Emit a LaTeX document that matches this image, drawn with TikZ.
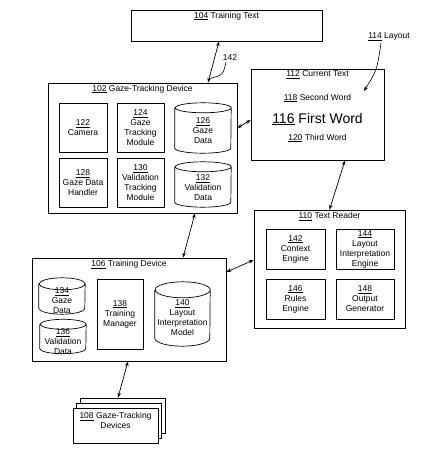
\documentclass[tikz,border=0pt]{standalone}
\usepackage{fontspec}
\setmainfont{Liberation Sans}
\usetikzlibrary{arrows.meta}
\newcommand\un[1]{\underline{#1}}
\tikzset{
  boxline/.style={draw=black, line width=0.7pt},
  box/.style={boxline, fill=white, inner sep=0pt, align=center},
  ttl/.style={inner sep=0pt, align=center},
  conn/.style={line width=0.7pt, {Stealth[length=5pt,width=3.6pt]}-{Stealth[length=5pt,width=3.6pt]}},
  lead/.style={line width=0.6pt, -{Stealth[length=5pt,width=3.6pt]}},
  every node/.style={font=\fontsize{8.5}{10}\selectfont}
}
% name, cx, cy, w, h, ry, text, text shift down
\newcommand\mydrum[8]{%
  \node[minimum width=#4pt, minimum height=#5pt, inner sep=0pt] (#1) at (#2,#3) {};
  \draw[boxline] ([yshift=-#6pt]#1.north west) -- ([yshift=#6pt]#1.south west)
     arc[start angle=180, end angle=360, x radius=#4pt/2, y radius=#6pt]
     -- ([yshift=-#6pt]#1.north east)
     arc[start angle=0, end angle=360, x radius=#4pt/2, y radius=#6pt];
  \node[ttl] at ([yshift=-#8pt]#1.center) {#7};
}
\begin{document}
\begin{tikzpicture}[x=1pt,y=1pt]
\useasboundingbox (0,0) rectangle (426,-468);

% 104
\node[box, minimum width=191pt, minimum height=31pt] (b104) at (226.5,-25.5) {};
\node[ttl] (t104) at ([yshift=-6.5pt]b104.north) {\un{104} Training Text};

% 102
\node[box, minimum width=189pt, minimum height=130pt] (b102) at (142.5,-148) {};
\node[ttl] (t102) at ([yshift=-6.5pt]b102.north) {\un{102} Gaze-Tracking Device};
\node[box, minimum width=48pt, minimum height=49pt] (b122) at (83,-127.5) {\un{122}\\Camera};
\node[box, minimum width=47pt, minimum height=49pt] (b124) at (140.5,-127.5) {\un{124}\\Gaze\\Tracking\\Module};
\mydrum{b126}{203}{-128}{56}{50}{5}{\un{126}\\Gaze\\Data}{2.5}
\node[box, minimum width=48pt, minimum height=49pt] (b128) at (83,-182.5) {\un{128}\\Gaze Data\\Handler};
\node[box, minimum width=47pt, minimum height=49pt] (b130) at (140.5,-182.5) {\un{130}\\Validation\\Tracking\\Module};
\mydrum{b132}{203}{-184.5}{56}{45}{5}{\un{132}\\Validation\\Data}{3}

% 112
\node[box, minimum width=133pt, minimum height=91pt] (b112) at (317.5,-114.5) {};
\node[ttl] (t112) at (317.5,-75) {\un{112} Current Text};
\node[ttl] (t118) at (317.5,-98) {\un{118} Second Word};
\node[ttl, font=\fontsize{14}{16}\selectfont] (t116) at (317.5,-119) {\un{116} First Word};
\node[ttl] (t120) at (317.5,-138) {\un{120} Third Word};

% 114 label
\node[ttl] (t114) at (389,-37) {\un{114} Layout};
\coordinate (l114) at (364,-91);
\draw[lead] ([xshift=-8pt,yshift=-2pt]t114.south) .. controls (377,-70) .. (l114);

% 110
\node[box, minimum width=151pt, minimum height=118pt] (b110) at (329.5,-269) {};
\node[ttl] (t110) at ([yshift=-7pt]b110.north) {\un{110} Text Reader};
\node[box, minimum width=59pt, minimum height=40pt] (b142) at (295.5,-249) {\un{142}\\Context\\Engine};
\node[box, minimum width=58pt, minimum height=40pt] (b144) at (365,-249) {\un{144}\\Layout\\Interpretation\\Engine};
\node[box, minimum width=59pt, minimum height=40pt] (b146) at (295.5,-299) {\un{146}\\Rules\\Engine};
\node[box, minimum width=58pt, minimum height=40pt] (b148) at (365,-299) {\un{148}\\Output\\Generator};

% 106
\node[box, minimum width=194pt, minimum height=103pt] (b106) at (129,-309.5) {};
\node[ttl] (t106) at ([yshift=-7pt]b106.north) {\un{106} Training Device};
\mydrum{b134}{62}{-296}{46}{36}{6}{\un{134}\\Gaze\\Data}{5}
\mydrum{b136}{63}{-336.5}{46}{34}{5}{\un{136}\\Validation\\Data}{5}
\node[box, minimum width=46pt, minimum height=70pt] (b138) at (120,-314) {\un{138}\\Training\\Manager};
\mydrum{b140}{182.5}{-314}{55}{64}{8}{\un{140}\\Layout\\Interpretation\\Model}{4}

% 108 stack
\node[box, minimum width=85pt, minimum height=35pt] (b108c) at (122.5,-415.5) {};
\node[box, minimum width=85pt, minimum height=35pt] (b108b) at (119,-420.5) {};
\node[box, minimum width=85pt, minimum height=35pt] (b108) at (115.5,-425.5) {};
\node[ttl] (t108) at ([yshift=5pt]b108.center) {\un{108} Gaze-Tracking\\Devices};

% connectors
\draw[conn] ([xshift=-7.5pt]b104.south) -- ([xshift=65.5pt]b102.north);
\node[ttl] (t142) at (230,-58) {142};
\coordinate (l142) at (210,-78.5);
\draw[line width=0.6pt] ([xshift=-4pt,yshift=-1pt]t142.south) .. controls (223,-75) .. (l142);
\draw[conn] ([yshift=20pt]b102.east) -- ([yshift=-5.5pt]b112.west);
\draw[conn] ([xshift=27.5pt]b112.south) -- (b110.north);
\draw[conn] ([xshift=52.5pt]b102.south) -- ([xshift=54pt]b106.north);
\draw[conn] ([yshift=37.5pt]b106.east) -- ([yshift=9pt]b110.west);
\draw[conn] ([xshift=-1pt]b106.south) -- ([xshift=-4.5pt]b108c.north);
\end{tikzpicture}
\end{document}
